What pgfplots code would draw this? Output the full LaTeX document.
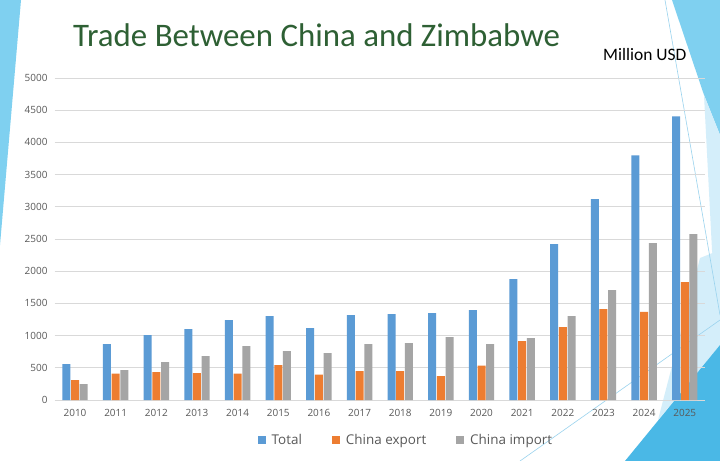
\documentclass[border=0pt]{standalone}
\usepackage{fontspec}
\setmainfont{Open Sans}
\newfontfamily\titlefont{Carlito}
\usepackage{pgfplots}
\pgfplotsset{compat=1.18}
\definecolor{cTotal}{HTML}{5B9BD5}
\definecolor{cExport}{HTML}{ED7D31}
\definecolor{cImport}{HTML}{A5A5A5}
\definecolor{gridgray}{HTML}{D9D9D9}
\definecolor{tickgray}{HTML}{595959}
\definecolor{titlegreen}{HTML}{2E6034}
\definecolor{decoA}{HTML}{7FD0F0}
\definecolor{decoB}{HTML}{D4EEFA}
\definecolor{decoC}{HTML}{4AB8E6}
\definecolor{decoL}{HTML}{9AD3EE}
\begin{document}
\begin{tikzpicture}
\useasboundingbox (0,0) rectangle (720bp,-461bp);
\fill[white] (0,0) rectangle (720bp,-461bp);
% decorative theme shapes
\fill[decoA] (0,0) -- (21bp,0) -- (0,-245bp) -- cycle;
\fill[decoA] (672bp,0) -- (720bp,0) -- (720bp,-135bp) -- (704bp,-95bp) -- cycle;
\fill[decoB] (704bp,-95bp) -- (720bp,-135bp) -- (720bp,-330bp) -- (712bp,-250bp) -- cycle;
\fill[decoB] (658bp,-420bp) -- (700bp,-258bp) -- (720bp,-250bp) -- (720bp,-345bp) -- cycle;
\fill[decoC] (625bp,-461bp) -- (720bp,-461bp) -- (720bp,-345bp) -- cycle;
\draw[decoL, line width=0.6bp] (520bp,-461bp) -- (720bp,-320bp);
\draw[decoL, line width=0.6bp] (665bp,0) -- (720bp,-315bp);
% titles
\node[anchor=base west, inner sep=0pt, text=titlegreen, font=\titlefont\fontsize{33}{38}\selectfont] at (73bp,-46bp) {Trade Between China and Zimbabwe};
\node[anchor=base west, inner sep=0pt, text=black, font=\titlefont\fontsize{17.5}{20}\selectfont] at (603bp,-60bp) {Million USD};
\begin{axis}[
  at={(54.7bp,-400bp)}, anchor=south west,
  scale only axis, width=650.4bp, height=322bp,
  ybar=0.7bp, bar width=8bp,
  xmin=-0.5, xmax=15.5, ymin=0, ymax=5000,
  xtick={0,...,15},
  xticklabels={2010,2011,2012,2013,2014,2015,2016,2017,2018,2019,2020,2021,2022,2023,2024,2025},
  ytick={0,500,...,5000},
  ymajorgrids, grid style={draw=gridgray, line width=0.75bp},
  axis line style={draw=none},
  major tick length=0pt,
  /pgf/number format/assume math mode=true,
  /pgf/number format/1000 sep={},
  tick label style={text=tickgray, font=\fontsize{10}{12}\selectfont},
  yticklabel style={inner sep=0pt, anchor=east, xshift=-7bp},
  xticklabel style={inner sep=0pt, anchor=north, yshift=-9bp},
  legend columns=-1,
  legend style={at={(0.540,-0.124)}, anchor=center, draw=none, fill=none,
    font=\fontsize{13.5}{15}\selectfont, text=tickgray,
    /tikz/every odd column/.append style={column sep=4bp},
    /tikz/every even column/.append style={column sep=28bp}},
  legend image code/.code={\fill[#1, draw=none] (0bp,-4bp) rectangle (8bp,4bp);},
]
\addplot[fill=cTotal, draw=none] coordinates {(0,558) (1,869) (2,1008) (3,1101) (4,1241) (5,1303) (6,1117) (7,1318) (8,1334) (9,1350) (10,1396) (11,1877) (12,2420) (13,3118) (14,3800) (15,4405)};
\addplot[fill=cExport, draw=none] coordinates {(0,310) (1,408) (2,434) (3,419) (4,408) (5,543) (6,393) (7,450) (8,450) (9,372) (10,533) (11,915) (12,1132) (13,1412) (14,1370) (15,1830)};
\addplot[fill=cImport, draw=none] coordinates {(0,248) (1,465) (2,589) (3,682) (4,838) (5,760) (6,729) (7,869) (8,884) (9,977) (10,869) (11,962) (12,1303) (13,1706) (14,2435) (15,2575)};
\legend{Total, China export, China import}
\end{axis}
\end{tikzpicture}
\end{document}
